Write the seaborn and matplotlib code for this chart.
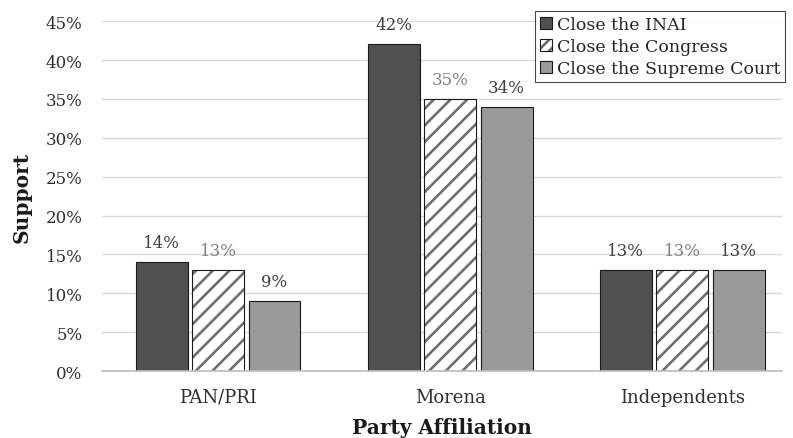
import matplotlib
matplotlib.use("Agg")
import matplotlib.pyplot as plt
import matplotlib.colors as mcolors
import seaborn as sns
import pandas as pd
from matplotlib.ticker import PercentFormatter

parties = ["PAN/PRI", "Morena", "Independents"]
series = ["Close the INAI", "Close the Congress", "Close the Supreme Court"]
inai = [14, 42, 13]
congress = [13, 35, 13]
court = [9, 34, 13]

colors = ["#505050", "#ffffff", "#9a9a9a"]
label_colors = ["#404040", "#808080", "#404040"]

rows = []
for s, vals in zip(series, [inai, congress, court]):
    for p, v in zip(parties, vals):
        rows.append({"party": p, "series": s, "support": v})
df = pd.DataFrame(rows)

sns.set_theme(style="white")
plt.rcParams["font.family"] = ["DejaVu Serif", "Liberation Serif"]
plt.rcParams["hatch.linewidth"] = 1.9

fig = plt.figure(figsize=(7.93, 4.39), dpi=100)
ax = fig.add_axes([0.1286, 0.1526, 0.8575, 0.797])

sns.barplot(data=df, x="party", y="support", hue="series", order=parties,
            hue_order=series, palette=colors, width=0.73, gap=0.08,
            edgecolor="#1a1a1a", linewidth=0.8, ax=ax)

hatch_gray = mcolors.to_rgba("#6e6e6e")
for bar in ax.containers[1]:
    bar.set_hatch("//")
    bar._hatch_color = hatch_gray

for cont, c in zip(ax.containers, label_colors):
    ax.bar_label(cont, labels=[f"{v:.0f}%" for v in cont.datavalues],
                 padding=8, fontsize=12, color=c)

ax.set_ylim(0, 45)
ax.set_xlim(-0.5, 2.43)
ax.set_yticks(range(0, 46, 5))
ax.yaxis.set_major_formatter(PercentFormatter(decimals=0))
ax.grid(axis="y", color="#d9d9d9", linewidth=1)
ax.set_axisbelow(True)
for side in ["top", "right", "left"]:
    ax.spines[side].set_visible(False)
ax.spines["bottom"].set_color("#bfbfbf")
ax.tick_params(axis="y", length=0, labelsize=12, colors="#303030", pad=14)
ax.tick_params(axis="x", length=0, labelsize=13, colors="#303030", pad=12)

ax.set_ylabel("Support", fontsize=14.5, fontweight="bold", color="#1a1a1a", labelpad=10)
ax.set_xlabel("Party Affiliation", fontsize=14.5, fontweight="bold", color="#1a1a1a", labelpad=8)

leg = ax.legend(loc="upper right", bbox_to_anchor=(1.005, 1.03), borderaxespad=0,
                fontsize=12.5, frameon=True, fancybox=False, handlelength=0.7,
                handleheight=0.7, handletextpad=0.25, labelspacing=0.3,
                borderpad=0.3)
leg.get_frame().set_edgecolor("#1a1a1a")
leg.get_frame().set_linewidth(0.8)
for h in leg.legend_handles:
    h.set_hatch(None)
leg.legend_handles[1].set_hatch("///")
leg.legend_handles[1]._hatch_color = hatch_gray

fig.savefig("out.png", dpi=100)
